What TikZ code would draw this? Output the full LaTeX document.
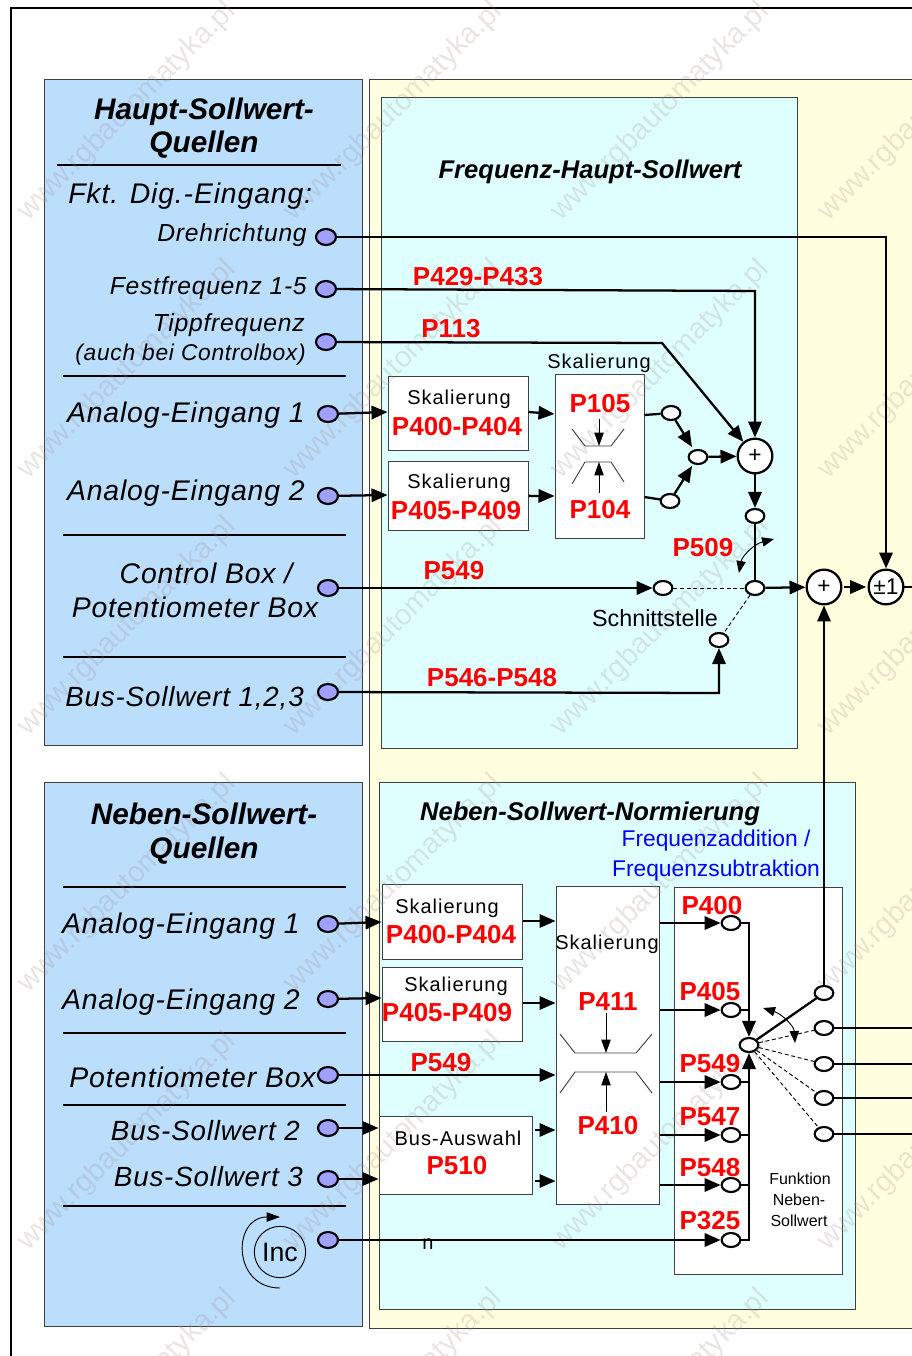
\documentclass[tikz,border=0pt]{standalone}
\usepackage{fontspec}
\setmainfont{Liberation Sans}
\usetikzlibrary{arrows.meta,shapes.geometric,fit}
\definecolor{panelblue}{HTML}{BBDEFD}
\definecolor{panelyellow}{HTML}{FFFFE0}
\definecolor{panelcyan}{HTML}{DFFFFF}
\definecolor{portblue}{HTML}{A0A0FF}
\definecolor{edgegray}{HTML}{404040}
\definecolor{wmgray}{HTML}{A08888}
\tikzset{
  panel/.style={draw=edgegray,line width=.75pt},
  boxn/.style={draw=edgegray,fill=white,line width=.75pt,inner sep=0pt},
  rulel/.style={line width=1.2pt,black},
  wire/.style={line width=1.7pt},
  arr/.style={line width=1.7pt,-{Triangle[length=12pt,width=10pt]}},
  thinarr/.style={line width=.7pt,{Triangle[length=9pt,width=7pt]}-{Triangle[length=9pt,width=7pt]}},
  markarr/.style={line width=.7pt,-{Triangle[length=10pt,width=7pt]}},
  dashln/.style={line width=.7pt,densely dashed},
  curveln/.style={line width=.7pt,draw=edgegray},
  pb/.style={ellipse,draw,fill=portblue,line width=1.6pt,minimum width=15pt,minimum height=12pt,inner sep=0pt},
  pw/.style={ellipse,draw,fill=white,line width=1.6pt,minimum width=14pt,minimum height=10.5pt,inner sep=0pt},
  sumn/.style={circle,draw,fill=white,line width=1.7pt,minimum size=26pt,inner sep=0pt,font=\fontsize{17}{17}\selectfont},
  redt/.style={inner sep=0pt,text=red,font=\fontsize{19.5}{20}\selectfont\bfseries},
  sk/.style={inner sep=0pt,font=\fontsize{15}{16}\selectfont\addfontfeatures{LetterSpace=5}},
  headt/.style={inner sep=0pt,font=\fontsize{22.3}{23}\selectfont\bfseries\itshape},
  subt/.style={inner sep=0pt,font=\fontsize{19.2}{21}\selectfont\bfseries\itshape},
  labt/.style={inner sep=0pt,font=\fontsize{21.3}{23}\selectfont\itshape\addfontfeatures{LetterSpace=3}},
  labu/.style={inner sep=0pt,font=\fontsize{20.8}{23}\selectfont\itshape\addfontfeatures{LetterSpace=3}},
  labs/.style={inner sep=0pt,font=\fontsize{18.5}{20}\selectfont\itshape\addfontfeatures{LetterSpace=3}},
  bluet/.style={inner sep=0pt,text=blue,font=\fontsize{17.1}{18}\selectfont},
  smallt/.style={inner sep=0pt,font=\fontsize{12}{14}\selectfont},
  wmt/.style={inner sep=0pt,rotate=45,text=wmgray,opacity=.22,font=\fontsize{22}{23}\selectfont},
}
\begin{document}
\begin{tikzpicture}[x=.75pt,y=-.75pt]
\useasboundingbox (0,0) rectangle (912,1356);
\fill[white] (0,0) rectangle (912,1356);
% frame
\draw[line width=1.5pt] (11,1356) -- (11,8) -- (912,8);
% panels
\draw[panel,fill=panelyellow] (912,79) -- (369,79) -- (369,1328) -- (912,1328);
\draw[panel,fill=panelblue] (44,79) rectangle (362,745);
\draw[panel,fill=panelblue] (44,782) rectangle (362,1326);
\draw[panel,fill=panelcyan] (381,97) rectangle (797,748);
\draw[panel,fill=panelcyan] (379,782) rectangle (855,1309);
% rules
\foreach \a/\b/\c in {57/341/165,63/346/376,63/346/535,63/346/657,63/346/887,63/346/1033,63/346/1105,63/346/1206}
  \draw[rulel] (\a,\c) -- (\b,\c);
% boxes
\node[boxn,fit={(388,376)(528,450)}] (b1) {};
\node[boxn,fit={(388,461)(528,530)}] (b2) {};
\node[boxn,fit={(555,374)(644,538)}] (sc1) {};
\node[boxn,fit={(382,884)(522,959)}] (b3) {};
\node[boxn,fit={(382,967)(522,1041)}] (b4) {};
\node[boxn,fit={(379,1116)(532,1194)}] (b5) {};
\node[boxn,fit={(556,886)(659,1204)}] (sc2) {};
\node[boxn,fit={(674,887)(842,1274)}] (fn) {};
% watermark
\foreach \i in {0,1,2,3} \foreach \j in {0,1,2,3,4,5}
  \node[wmt] (wm\i\j) at ({127+266.7*\i},{112+257.4*\j}) {www.rgbautomatyka.pl};
% blue ports
\node[pb] (drehr) at (326,237) {};
\node[pb] (fest) at (326,289) {};
\node[pb] (tipp) at (326,342) {};
\node[pb] (an1) at (328,414) {};
\node[pb] (an2) at (328,496) {};
\node[pb] (ctrl) at (328,588) {};
\node[pb] (bus) at (328,692) {};
\node[pb] (nan1) at (328,924) {};
\node[pb] (nan2) at (328,999) {};
\node[pb] (npot) at (328,1075) {};
\node[pb] (nb2) at (328,1128) {};
\node[pb] (nb3) at (328,1179) {};
\node[pb] (ninc) at (328,1240) {};
% white ports top
\node[pw] (s1) at (671,413) {};
\node[pw] (s2) at (670,501) {};
\node[pw] (s3) at (698,457) {};
\node[sumn] (sumA) at (755,456) {+};
\node[sumn] (sumB) at (824,587) {+};
\node[sumn] (pm) at (886,587) {±1};
\node[pw] (q1) at (755,516) {};
\node[pw] (q2) at (755,588) {};
\node[pw] (q3) at (663,588) {};
\node[pw] (q4) at (719,640) {};
% white ports bottom
\node[pw] (n1) at (731,923) {};
\node[pw] (n2) at (731,1010) {};
\node[pw] (n3) at (731,1082) {};
\node[pw] (n4) at (731,1135) {};
\node[pw] (n5) at (731,1185) {};
\node[pw] (n6) at (731,1240) {};
\node[pw] (j) at (749,1045) {};
\node[pw] (o1) at (824,993) {};
\node[pw] (o2) at (824,1028) {};
\node[pw] (o3) at (824,1064) {};
\node[pw] (o4) at (824,1098) {};
\node[pw] (o5) at (824,1134) {};
% helper coordinates
\coordinate (c1) at (886,237);
\coordinate (c2) at (755,291);
\coordinate (c3) at (662,343);
\coordinate (c4) at (719,693);
\coordinate (e0) at (912,587);
\coordinate (e2) at (912,1028);
\coordinate (e3) at (912,1064);
\coordinate (e4) at (912,1098);
\coordinate (e5) at (912,1134);
\coordinate (t1) at (749,923);
\coordinate (t2) at (749,1240);
% wires top
\draw[arr] (drehr) -- (c1) -- (pm);
\draw[arr] (fest) -- (c2) -- (sumA);
\draw[arr] (tipp) -- (c3) -- (sumA);
\draw[arr] (an1) -- (b1.west |- 0,412);
\draw[arr] (an2) -- (b2.west |- 0,495);
\draw[arr] (b1.east |- 0,412) -- (sc1.west |- 0,414);
\draw[arr] (b2) -- (sc1.west |- 0,496);
\draw[wire] (sc1.east |- 0,415) -- (s1);
\draw[wire] (sc1.east |- 0,497) -- (s2);
\draw[arr] (s1) -- ([shift={(-6,-10)}]s3.center);
\draw[arr] (s2) -- ([shift={(-6,9)}]s3.center);
\draw[arr] (s3) -- (sumA);
\draw[arr] (sumA) -- (q1);
\draw[wire] (q1) -- (q2);
\draw[arr] (ctrl) -- (q3);
\draw[dashln] (q3) -- (q2);
\draw[dashln] (q2) -- (q4);
\draw[arr] (bus) -- (c4) -- (q4);
\draw[arr] (q2) -- (sumB);
\draw[arr,shorten <=1pt,shorten >=1pt] (sumB) -- (pm);
\draw[wire] (pm) -- (e0);
\draw[arr] (o1) -- (sumB);
% curved switch arrows
\draw[thinarr] (774,539) .. controls (754,544) and (742,556) .. (739,573);
\draw[thinarr] (763,1008) .. controls (782,1014) and (794,1026) .. (795,1043);
% scale marks top
\draw[curveln] (572,429) -- (585,446) -- (611,446) -- (624,429);
\draw[curveln] (572,484) -- (585,462) -- (611,462) -- (624,482);
\coordinate (m1a) at (599,419); \coordinate (m1b) at (599,446);
\coordinate (m2a) at (599,493); \coordinate (m2b) at (599,462);
\draw[markarr] (m1a) -- (m1b);
\draw[markarr] (m2a) -- (m2b);
% wires bottom
\draw[arr] (nan1) -- (b3.west |- 0,922);
\draw[arr] (nan2) -- (b4.west |- 0,998);
\draw[arr] (b3.east |- 0,921) -- (sc2.west |- 0,921);
\draw[arr] (b4.east |- 0,1003) -- (sc2.west |- 0,1003);
\draw[arr] (npot) -- (sc2.west |- 0,1075);
\draw[arr] (nb2) -- (b5.west |- 0,1128);
\draw[arr] (nb3) -- (b5.west |- 0,1179);
\draw[arr] ([xshift=2pt]b5.east |- 0,1130) -- (sc2.west |- 0,1130);
\draw[arr] ([xshift=2pt]b5.east |- 0,1181) -- (sc2.west |- 0,1181);
\draw[arr] (sc2.east |- 0,923) -- (n1);
\draw[arr] (sc2.east |- 0,1010) -- (n2);
\draw[arr] (sc2.east |- 0,1082) -- (n3);
\draw[arr] (sc2.east |- 0,1135) -- (n4);
\draw[arr] (sc2.east |- 0,1185) -- (n5);
\draw[arr] (ninc) -- (n6);
\draw[arr] (n1) -- (t1) -- (j);
\draw[arr] (n6) -- (t2) -- (j);
\draw[wire,line width=1pt] (n2) -- (n2 -| j);
\draw[wire,line width=1pt] (n3) -- (n3 -| j);
\draw[wire,line width=1pt] (n4) -- (n4 -| j);
\draw[wire,line width=1pt] (n5) -- (n5 -| j);
\draw[wire] (j) -- (o1);
\draw[dashln] (j) -- (o2);
\draw[dashln] (j) -- (o3);
\draw[dashln] (j) -- (o4);
\draw[dashln] (j) -- (o5);
\draw[wire] (o2) -- (e2);
\draw[wire] (o3) -- (e3);
\draw[wire] (o4) -- (e4);
\draw[wire] (o5) -- (e5);
% scale marks bottom
\draw[curveln] (560,1034) -- (575,1053) -- (636,1053) -- (652,1034);
\draw[curveln] (560,1093) -- (575,1072) -- (636,1072) -- (652,1093);
\coordinate (m3a) at (606,1013); \coordinate (m3b) at (606,1053);
\coordinate (m4a) at (606,1112); \coordinate (m4b) at (606,1072);
\draw[markarr] (m3a) -- (m3b);
\draw[markarr] (m4a) -- (m4b);
% Inc
\node[circle,draw,line width=.7pt,minimum size=38.5pt,inner sep=0pt,font=\fontsize{20}{20}\selectfont] (inc) at (280,1252) {Inc};
\draw[line width=.7pt,-{Triangle[length=10pt,width=7pt]}] (280,1288) .. controls (232,1288) and (232,1217) .. (280,1217);
% text left top
\node[headt] (t01) at (204,112) {Haupt-Sollwert-};
\node[headt] (t02) at (204,145) {Quellen};
\node[labt,anchor=west] (t03) at (68,196) {Fkt. Dig.-Eingang:};
\node[labs,anchor=east] (t04) at (307,235) {Drehrichtung};
\node[labs,anchor=east] (t05) at (307,288) {Festfrequenz 1-5};
\node[labs,anchor=east] (t06) at (305,325) {Tippfrequenz};
\node[inner sep=0pt,anchor=east,font=\fontsize{17.1}{18}\selectfont\itshape\addfontfeatures{LetterSpace=3}] (t07) at (306,355) {(auch bei Controlbox)};
\node[labt,anchor=east] (t08) at (305,415) {Analog-Eingang 1};
\node[labt,anchor=east] (t09) at (305,493) {Analog-Eingang 2};
\node[labt] (t10) at (206,573) {Control Box /};
\node[labt] (t11) at (195,607) {Potentiometer Box};
\node[labu,anchor=east] (t12) at (304,698) {Bus-Sollwert 1,2,3};
% text left bottom
\node[headt] (t13) at (204,814) {Neben-Sollwert-};
\node[headt] (t14) at (204,851) {Quellen};
\node[labt,anchor=east] (t15) at (300,926) {Analog-Eingang 1};
\node[labt,anchor=east] (t16) at (300,1002) {Analog-Eingang 2};
\node[labt,anchor=east] (t17) at (316,1077) {Potentiometer Box};
\node[labu,anchor=east] (t18) at (300,1131) {Bus-Sollwert 2};
\node[labu,anchor=east] (t19) at (303,1177) {Bus-Sollwert 3};
% text middle
\node[subt] (t20) at (590,172) {Frequenz-Haupt-Sollwert};
\node[subt] (t21) at (590,814) {Neben-Sollwert-Normierung};
\node[bluet] (t22) at (716,841) {Frequenzaddition /};
\node[bluet] (t23) at (716,871) {Frequenzsubtraktion};
\node[redt] (t24) at (478,277) {P429-P433};
\node[redt] (t25) at (451,329) {P113};
\node[sk] (t26) at (599,363) {Skalierung};
\node[sk] (t27) at (459,399) {Skalierung};
\node[redt] (t28) at (457,427) {P400-P404};
\node[sk] (t29) at (459,483) {Skalierung};
\node[redt] (t30) at (456,511) {P405-P409};
\node[redt] (t31) at (600,404) {P105};
\node[redt] (t32) at (600,510) {P104};
\node[redt] (t33) at (703,548) {P509};
\node[redt] (t34) at (454,571) {P549};
\node[inner sep=0pt,font=\fontsize{17.5}{18}\selectfont] (t35) at (655,618) {Schnittstelle};
\node[redt] (t36) at (492,678) {P546-P548};
\node[sk] (t37) at (447,908) {Skalierung};
\node[redt] (t38) at (451,935) {P400-P404};
\node[sk] (t39) at (456,986) {Skalierung};
\node[redt] (t40) at (447,1013) {P405-P409};
\node[sk] (t41) at (458,1138) {Bus-Auswahl};
\node[redt] (t42) at (457,1166) {P510};
\node[redt] (t43) at (441,1063) {P549};
\node[sk] (t44) at (607,944) {Skalierung};
\node[redt] (t45) at (608,1002) {P411};
\node[redt] (t46) at (608,1126) {P410};
\node[redt] (t47) at (712,906) {P400};
\node[redt] (t48) at (710,992) {P405};
\node[redt] (t49) at (710,1064) {P549};
\node[redt] (t50) at (710,1117) {P547};
\node[redt] (t51) at (710,1168) {P548};
\node[redt] (t52) at (710,1221) {P325};
\node[smallt] (t53) at (800,1179) {Funktion};
\node[smallt] (t54) at (799,1200) {Neben-};
\node[smallt] (t55) at (799,1221) {Sollwert};
\node[inner sep=0pt,font=\fontsize{15}{16}\selectfont] (t56) at (428,1244) {n};
\end{tikzpicture}
\end{document}
